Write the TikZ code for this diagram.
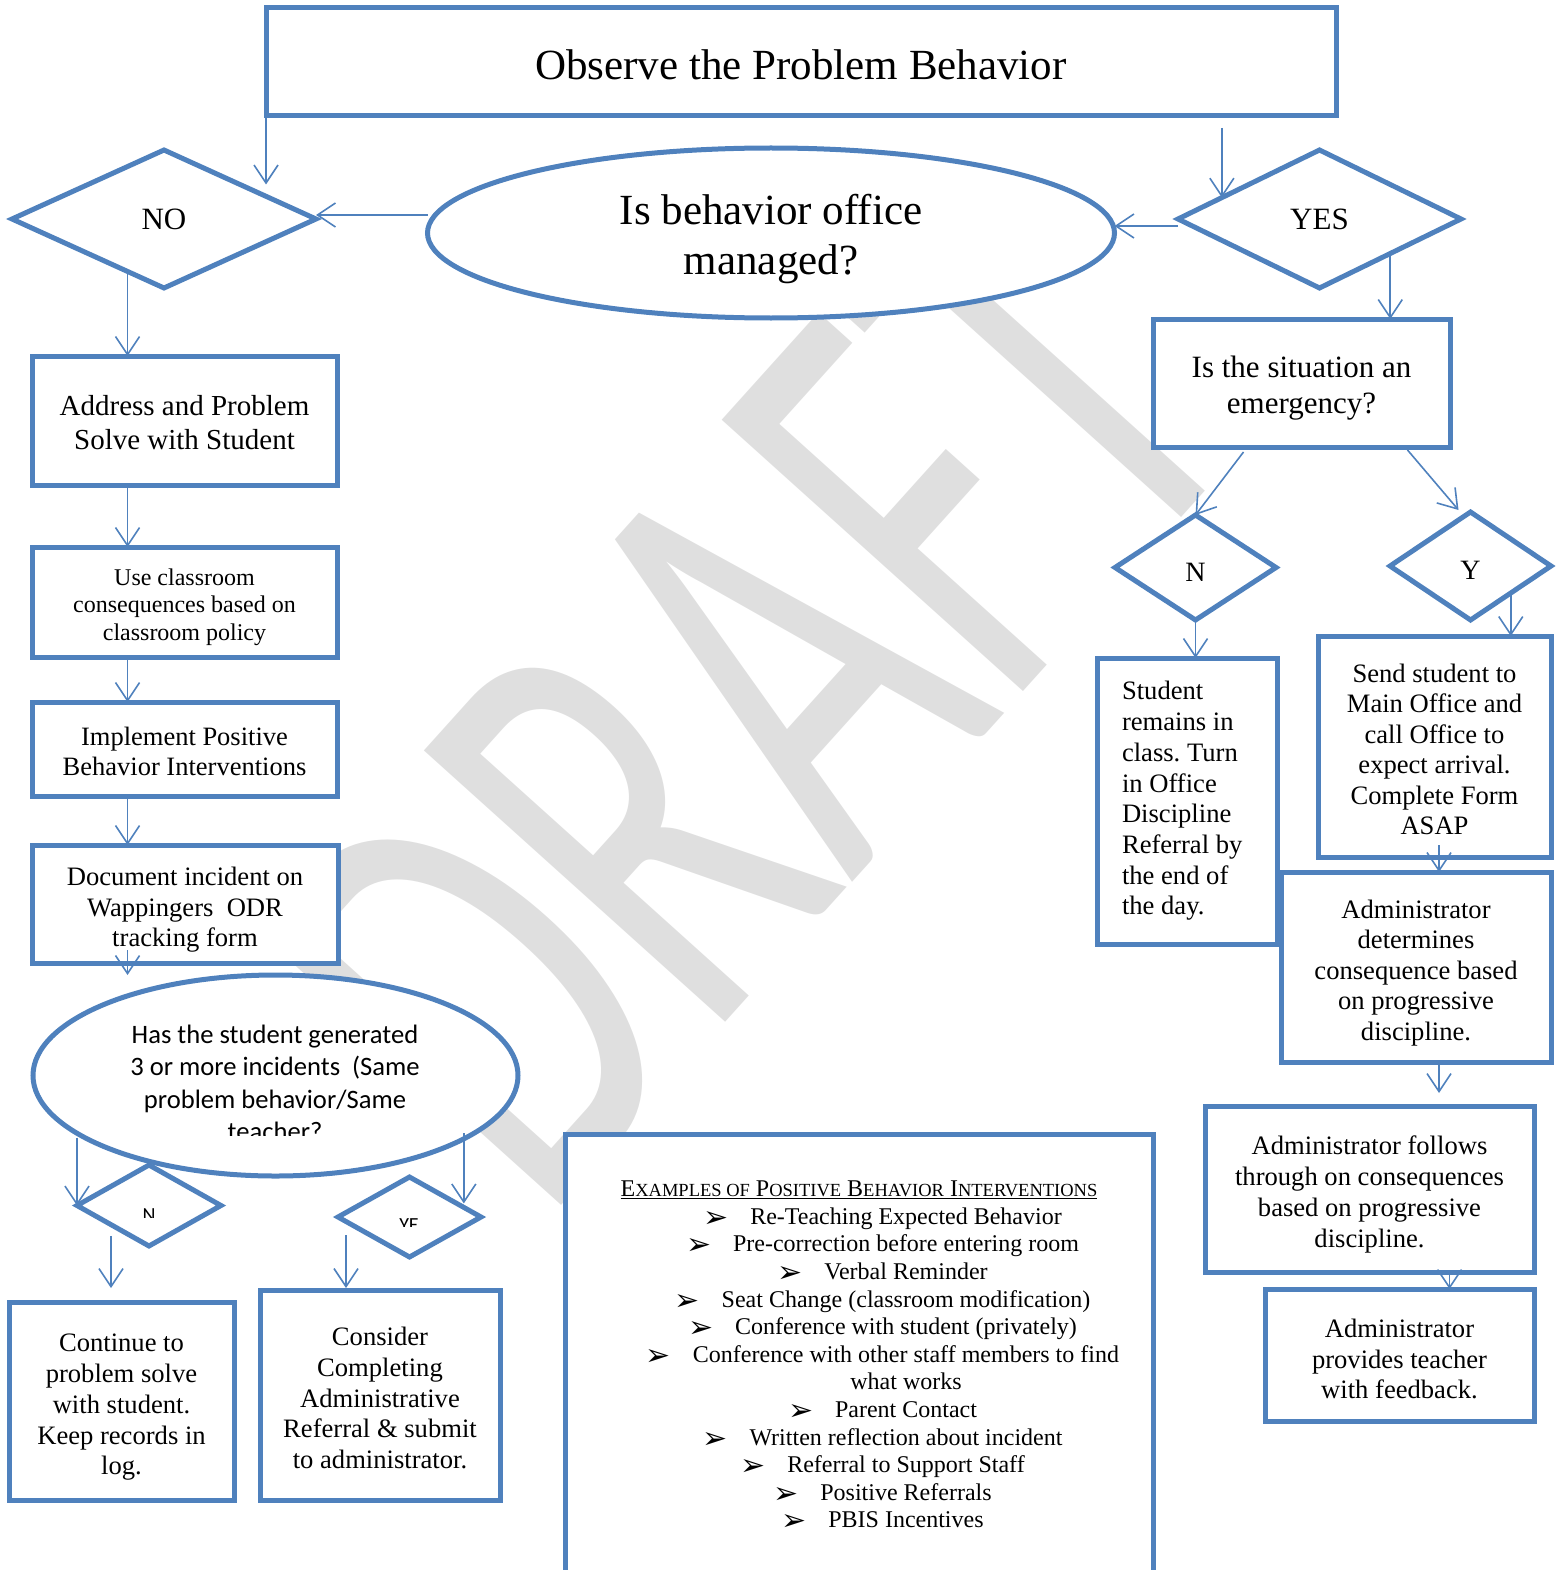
\documentclass[tikz,border=0pt]{standalone}
\usepackage{fontspec}
\usepackage{graphicx}
\setmainfont{Liberation Serif}
\newfontfamily\calibfont{Carlito}
\newfontfamily\dejafont{DejaVu Sans}
\usetikzlibrary{shapes.geometric,arrows.meta,calc}
\definecolor{flowblue}{HTML}{4F81BD}
\tikzset{
  box/.style={draw=flowblue, line width=5pt, fill=white, inner sep=0pt, outer sep=0pt, align=center},
  decision/.style={diamond, draw=flowblue, line width=5pt, fill=white, inner sep=0pt, outer sep=0pt},
  question/.style={ellipse, draw=flowblue, line width=5pt, fill=white, inner sep=0pt, outer sep=0pt},
  arr/.style={draw=flowblue, line width=1.6pt, -{Straight Barb[length=18pt,width=24pt]}},
}
\frenchspacing
% pushes a text block down by half of #1
\newcommand{\dn}[1]{\rule{0pt}{\dimexpr0.69em+#1\relax}}
\newcommand{\pbi}[1]{\hspace*{47pt}\makebox[47pt][l]{\raisebox{-3pt}{\dejafont\fontsize{30}{30}\selectfont ➢}}#1}
\newcommand{\scs}{\fontsize{18.5}{27.6}\selectfont}

\begin{document}
\begin{tikzpicture}[x=1pt, y=-1pt]
\clip (0,0) rectangle (1559,1570);
% watermark
\node[rotate=48, anchor=base west, text=gray!25, inner sep=0pt,
  font=\calibfont\fontsize{632}{632}\selectfont] (wm) at (543,1226) {\scalebox{0.63}[1]{DRAFT}};

% top row
\node[box, minimum width=1070pt, minimum height=108pt, font=\fontsize{43}{50}\selectfont] (title) at (801,62) {\dn{6pt}Observe the Problem Behavior};
\node[decision, minimum width=304pt, minimum height=138pt, font=\fontsize{31}{36}\selectfont] (no) at (164,219) {NO};
\node[question, minimum width=687pt, minimum height=170pt, align=center, font=\fontsize{43}{50}\selectfont] (managed) at (771,233) {\dn{12pt}Is behavior office\\managed?};
\node[decision, minimum width=283pt, minimum height=138pt, font=\fontsize{31}{36}\selectfont] (yes) at (1319.5,219) {YES};

% office managed side
\node[box, minimum width=297pt, minimum height=128pt, font=\fontsize{31}{36}\selectfont] (emerg) at (1301.5,383) {\dn{10pt}Is the situation an\\emergency?};
\node[decision, minimum width=161pt, minimum height=105pt, font=\fontsize{28}{32}\selectfont] (emN) at (1195.5,567.5) {\dn{8pt}N};
\node[decision, minimum width=161pt, minimum height=108pt, font=\fontsize{28}{32}\selectfont] (emY) at (1470.5,566) {\dn{8pt}Y};
\node[box, minimum width=180pt, minimum height=286pt, text width=130pt, align=justify, font=\fontsize{26.6}{30.7}\selectfont] (stay) at (1187,801) {Student\\remains in\\class. Turn\\in Office\\Discipline\\Referral by\\the end of\\the day.};
\node[box, minimum width=233pt, minimum height=221pt, font=\fontsize{26.6}{30.5}\selectfont] (send) at (1434.5,746.5) {\dn{6pt}Send student to\\Main Office and\\call Office to\\expect arrival.\\Complete Form\\ASAP};
\node[box, minimum width=270pt, minimum height=190pt, font=\fontsize{26.6}{30.5}\selectfont] (decide) at (1416,967) {\dn{12pt}Administrator\\determines\\consequence based\\on progressive\\discipline.};
\node[box, minimum width=329pt, minimum height=166pt, font=\fontsize{26.6}{31}\selectfont] (follow) at (1369.5,1189) {\dn{12pt}Administrator follows\\through on consequences\\based on progressive\\discipline.};
\node[box, minimum width=269pt, minimum height=132pt, font=\fontsize{26.6}{30.5}\selectfont] (feedback) at (1399.5,1355) {\dn{8pt}Administrator\\provides teacher\\with feedback.};

% classroom managed side
\node[box, minimum width=305pt, minimum height=129pt, font=\fontsize{29}{34}\selectfont] (address) at (184.5,420.5) {\dn{4pt}Address and Problem\\Solve with Student};
\node[box, minimum width=305pt, minimum height=110pt, font=\fontsize{24}{27.5}\selectfont] (classroom) at (184.5,602) {\dn{10pt}Use classroom\\consequences based on\\classroom policy};
\node[box, minimum width=305pt, minimum height=94pt, font=\fontsize{26.5}{30}\selectfont] (implement) at (184.5,749) {\dn{4pt}Implement Positive\\Behavior Interventions};
\node[box, minimum width=306pt, minimum height=118pt, font=\fontsize{26.6}{30.5}\selectfont] (document) at (185,904) {\dn{12pt}Document incident on\\Wappingers\ \ ODR\\tracking form};
\node[question, minimum width=485pt, minimum height=201pt] (repeat) at (275.5,1075.5) {};
\begin{scope}
  \clip (33,975) rectangle (518,1135);
  \node[align=center, font=\calibfont\fontsize{26.6}{32.5}\selectfont] (repeattext) at (275,1083) {Has the student generated\\3 or more incidents\ \ (Same\\problem behavior/Same\\teacher?};
\end{scope}
\node[decision, minimum width=144pt, minimum height=81pt] (sno) at (149,1205.5) {};
\node[decision, minimum width=143pt, minimum height=80pt] (syes) at (409.5,1217) {};
\begin{scope}
  \clip (77,1160) rectangle (221,1217);
  \node[anchor=base, font=\calibfont\fontsize{20}{24}\selectfont] (snotext) at (149,1221) {N};
\end{scope}
\begin{scope}
  \clip (338,1170) rectangle (481,1226);
  \node[anchor=base, font=\calibfont\fontsize{20}{24}\selectfont] (syestext) at (409,1231) {YE};
\end{scope}
\node[box, minimum width=225pt, minimum height=198pt, font=\fontsize{26.6}{30.7}\selectfont] (continue) at (121.5,1401) {\dn{12pt}Continue to\\problem solve\\with student.\\Keep records in\\log.};
\node[box, minimum width=240pt, minimum height=210pt, font=\fontsize{26.6}{30.7}\selectfont] (consider) at (380,1395) {\dn{6pt}Consider\\Completing\\Administrative\\Referral \& submit\\to administrator.};

% examples
\node[box, minimum width=588pt, minimum height=466pt] (examples) at (859,1367) {};
\node[align=center, font=\fontsize{24}{27.6}\selectfont] (list) at (859,1356) {\underline{E{\scs XAMPLES OF} P{\scs OSITIVE} B{\scs EHAVIOR} I{\scs NTERVENTIONS}}\\
  \pbi{Re-Teaching Expected Behavior}\\
  \pbi{Pre-correction before entering room}\\
  \pbi{Verbal Reminder}\\
  \pbi{Seat Change (classroom modification)}\\
  \pbi{Conference with student (privately)}\\
  \pbi{Conference with other staff members to find}\\
  \hspace*{94pt}what works\\
  \pbi{Parent Contact}\\
  \pbi{Written reflection about incident}\\
  \pbi{Referral to Support Staff}\\
  \pbi{Positive Referrals}\\
  \pbi{PBIS Incentives}};

% connectors
\coordinate (colL) at ($(no.west)!0.76!(no.south)$);
\coordinate (yesin) at ($(yes.west)!0.31!(yes.north)$);
\coordinate (yeshit) at ($(syes.north)!0.76!(syes.east)$);
\draw[arr] (title.south west) -- (title.south west |- no.north east);
\draw[arr] ($(managed.west)+(0,-18)$) -- ($(managed.west -| no.east)+(0,-18)$);
\draw[arr] ($(title.south -| yesin)+(0,12)$) -- (yesin);
\draw[arr] ($(yes.west)+(0,7)$) -- ($(yes.west -| managed.east)+(0,7)$);
\draw[arr] (yes.south east) -- (yes.south east |- emerg.north);
\draw[arr] ($(emerg.south)+(-58,5)$) -- (emN.north);
\draw[arr] ($(emerg.south)+(106,3)$) -- ($(emY.north)+(-12,-2)$);
\draw[arr] (emN.south) -- (emN.south |- stay.north);
\draw[arr] (emY.south east) -- (emY.south east |- send.north);
\draw[arr] ($(send.south)+(4.5,-12)$) -- ($(send.south |- decide.north)+(4.5,0)$);
\draw[arr] ($(decide.south)+(23,3)$) -- ($(follow.north -| decide.south)+(23,-13)$);
\draw[arr] ($(follow.south -| feedback.north)+(50,0)$) -- ($(feedback.north)+(50,0)$);
\draw[arr] (colL) -- (colL |- address.north);
\draw[arr] (address.south -| colL) -- (colL |- classroom.north);
\draw[arr] (classroom.south -| colL) -- (colL |- implement.north);
\draw[arr] (implement.south -| colL) -- (colL |- document.north);
\draw[arr] ($(document.south -| colL)+(0,-13)$) -- (colL |- repeat.north);
\draw[arr] ($(sno.west)+(0,-68)$) -- (sno.west);
\draw[arr] ($(yeshit)+(0,-74)$) -- ($(yeshit)+(0,-4)$);
\draw[arr] ($(sno.south west)+(-2,10)$) -- ($(sno.south west |- continue.north)+(-2,-14)$);
\draw[arr] ($(consider.north)+(-34,-55)$) -- ($(consider.north)+(-34,-2)$);
\end{tikzpicture}
\end{document}
